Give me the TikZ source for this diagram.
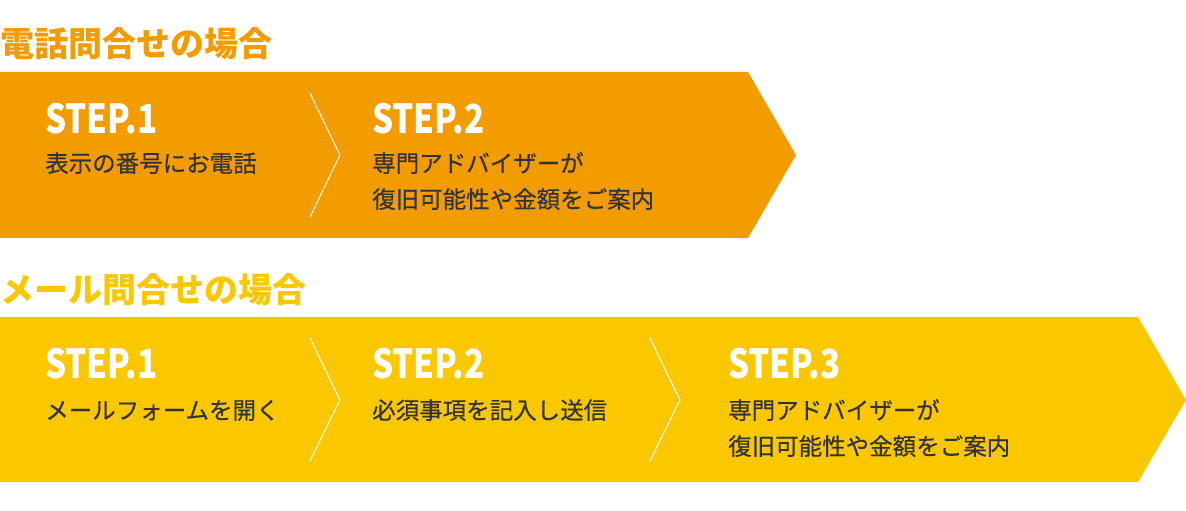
\documentclass[tikz,border=0pt]{standalone}
\usepackage{fontspec}
\setmainfont{Noto Sans CJK JP}
\newfontfamily\bodyfont[FakeBold=0.5]{Noto Sans CJK JP}
\definecolor{orangeband}{HTML}{F39C00}
\definecolor{yellowband}{HTML}{FBC800}
\definecolor{txt}{HTML}{333333}
\begin{document}
\begin{tikzpicture}[x=1pt,y=-1pt,
  sep/.style={draw=white, line width=1pt},
  titlelbl/.style={anchor=base west, inner sep=0pt, font=\fontsize{34}{34}\selectfont\bfseries},
  steplbl/.style={anchor=base west, inner sep=0pt, text=white, font=\fontsize{40}{40}\selectfont\bfseries, xscale=0.83},
  body/.style={anchor=base west, inner sep=0pt, text=txt, font=\bodyfont\fontsize{23.5}{30}\selectfont}]
\useasboundingbox (0,0) rectangle (1186,511);
% top band
\fill[orangeband] (0,72) -- (748,72) -- (796,155) -- (748,238) -- (0,238) -- cycle;
\draw[sep] (310,93) -- (340,155) -- (310,217);
\node[titlelbl, text=orangeband] (t1) at (0,57) {電話問合せの場合};
\node[steplbl] (a1) at (45,133) {STEP.1};
\node[body] (a1b) at (45,172) {表示の番号にお電話};
\node[steplbl] (a2) at (372,133) {STEP.2};
\node[body] (a2b) at (372,172) {専門アドバイザーが};
\node[body] (a2c) at (372,208) {復旧可能性や金額をご案内};
% bottom band
\fill[yellowband] (0,317) -- (1138,317) -- (1186,400) -- (1138,482) -- (0,482) -- cycle;
\draw[sep] (310,338) -- (340,400) -- (310,461);
\draw[sep] (650,338) -- (680,400) -- (650,461);
\node[titlelbl, text=yellowband] (t2) at (0,302) {メール問合せの場合};
\node[steplbl] (b1) at (45,378) {STEP.1};
\node[body] (b1b) at (45,419) {メールフォームを開く};
\node[steplbl] (b2) at (372,378) {STEP.2};
\node[body] (b2b) at (372,419) {必須事項を記入し送信};
\node[steplbl] (b3) at (728,378) {STEP.3};
\node[body] (b3b) at (728,419) {専門アドバイザーが};
\node[body] (b3c) at (728,455) {復旧可能性や金額をご案内};
\end{tikzpicture}
\end{document}
